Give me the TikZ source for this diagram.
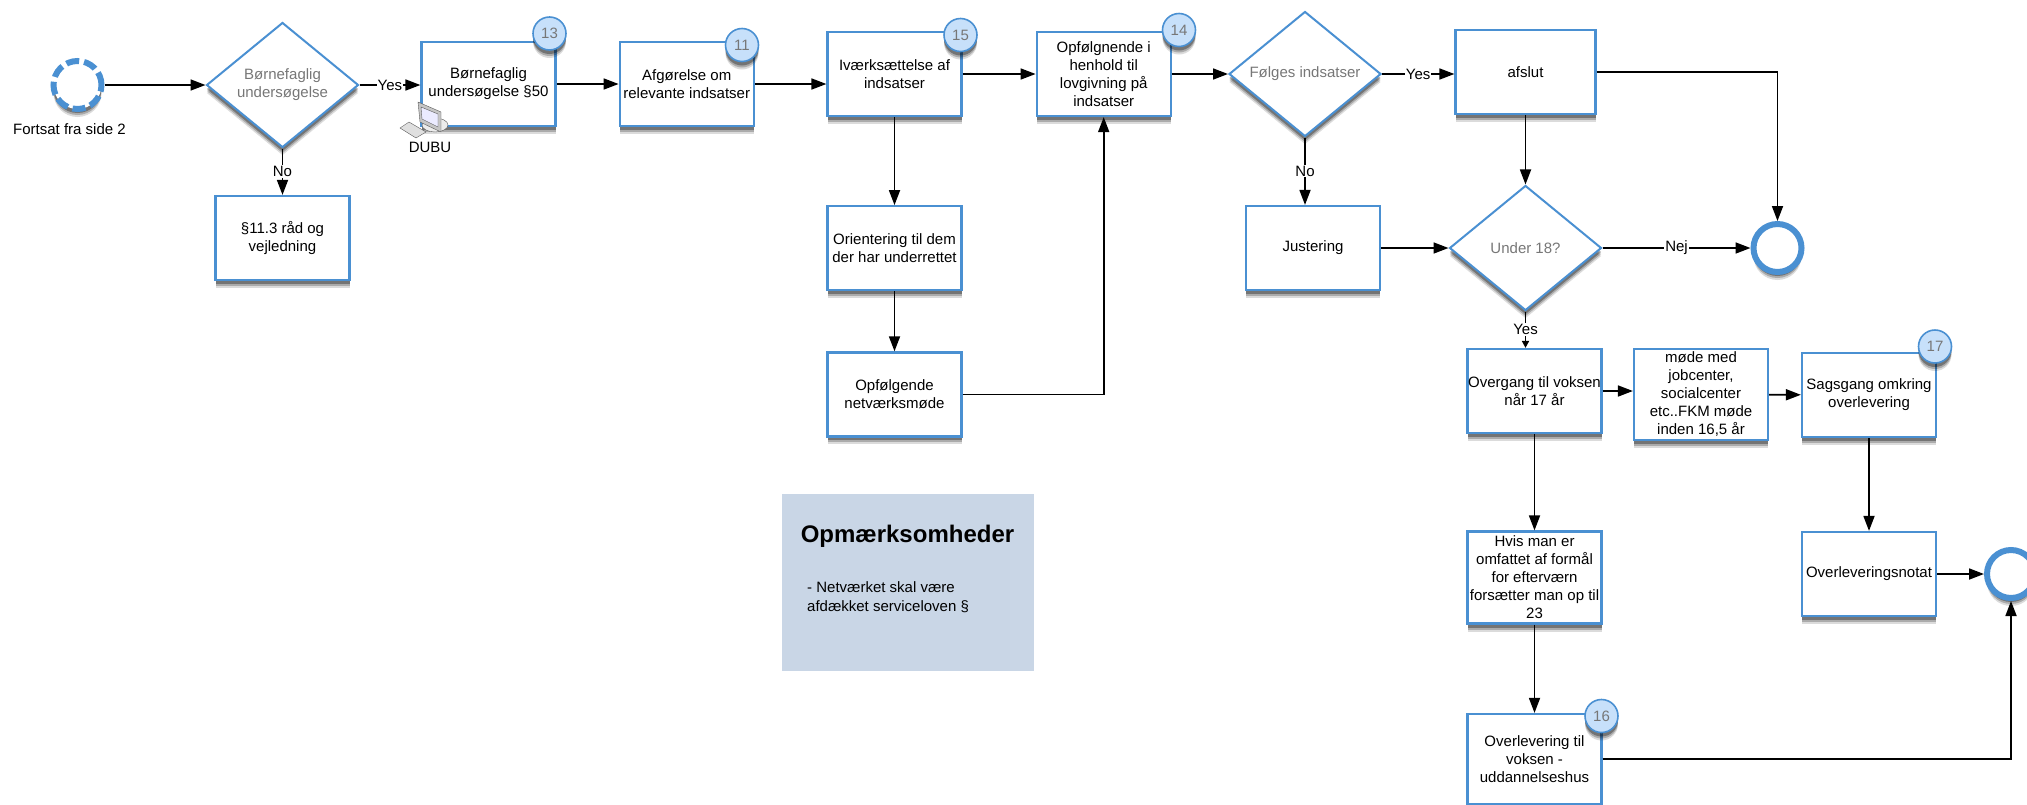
\documentclass[tikz,border=0pt]{standalone}
\usepackage{fontspec}
\setmainfont{Liberation Sans}
\usetikzlibrary{positioning,shapes.geometric,shadows,arrows.meta}
\definecolor{flowblue}{HTML}{4A90D2}
\definecolor{badgefill}{HTML}{C7E0FA}
\definecolor{notefill}{HTML}{C9D6E6}
\definecolor{softgrey}{HTML}{777777}

\begin{document}
\begin{tikzpicture}[
	x=1pt,y=-1pt,
	font=\fontsize{15}{18}\selectfont,
	softshadow/.style = {
		drop shadow={shadow xshift=0pt,shadow yshift=-8pt,opacity=.14,fill=black},
		drop shadow={shadow xshift=0pt,shadow yshift=-6pt,opacity=.22,fill=black},
		drop shadow={shadow xshift=0pt,shadow yshift=-4pt,opacity=.32,fill=black},
	},
	box/.style = {
		draw=flowblue,fill=white,line width=2.2pt,
		minimum width=134pt,
		minimum height=84pt,
		inner sep=0pt,
		align=center,
		softshadow,
	},
	decision/.style = {
		diamond,draw=flowblue,fill=white,line width=2pt,
		minimum width=152pt,
		minimum height=125pt,
		inner sep=0pt,
		aspect=1.2,
		align=center,
		text=softgrey,
		softshadow,
	},
	badge/.style = {
		circle,draw=flowblue,fill=badgefill,line width=1.6pt,
		minimum size=33pt,
		inner sep=0pt,
		text=softgrey,
		softshadow,
	},
	event/.style = {
		circle,draw=flowblue,fill=white,line width=6pt,
		minimum size=48pt,
		inner sep=0pt,
		softshadow,
	},
	flow/.style = {-{Triangle[length=15pt,width=11pt]},line width=1.7pt,black},
	shortflow/.style = {-{Triangle[length=7pt,width=7pt]},line width=1.7pt,black},
	tag/.style = {fill=white,inner sep=1pt},
	node distance=63pt
]
\useasboundingbox (0,0) rectangle (2027,804);

% Start of the page
\node [event,dash pattern=on 13pt off 5pt] (start) at (77.5,85) {};
\node [below=8pt of start, xshift=-8pt] (startlabel) {Fortsat fra side 2};

% Top row
\node [decision] (under) at (282.5,85) {Børnefaglig\\undersøgelse};
\node [box] (sec50) at (488.5,84) {Børnefaglig\\undersøgelse §50};
\node [box,right=62pt of sec50] (afg) {Afgørelse om\\relevante indsatser};
\node [box] (ivaerk) at (894.5,74) {Iværksættelse af\\indsatser};
\node [box,right=73pt of ivaerk] (lov) {Opfølgnende i\\henhold til\\lovgivning på\\indsatser};
\node [decision] (folges) at (1305,74) {Følges indsatser};
\node [box,minimum width=140pt] (afslut) at (1525.5,72) {afslut};

% Below the top row
\node [box] (raad) at (282.5,238) {§11.3 råd og\\vejledning};
\node [box,below=88pt of ivaerk] (orient) {Orientering til dem\\der har underrettet};
\node [box,below=60pt of orient] (netv) {Opfølgende\\netværksmøde};
\node [box] (just) at (1313,248) {Justering};
\node [decision] (u18) at (1525.5,248) {Under 18?};
\node [event] (end) at (1777.5,248) {};

% Right part
\node [box] (overg) at (1534.5,391) {Overgang til voksen\\når 17 år};
\node [box,minimum height=91pt] (moede) at (1701,394.5) {møde med\\jobcenter,\\socialcenter\\etc..FKM møde\\inden 16,5 år};
\node [box] (sags) at (1869,395) {Sagsgang omkring\\overlevering};
\node [box,minimum height=92pt] (hvis) at (1534.5,577.5) {Hvis man er\\omfattet af formål\\for efterværn\\forsætter man op til\\23};
\node [box] (notat) at (1869,574) {Overleveringsnotat};
\node [event] (endb) at (2011,574) {};
\node [box,minimum height=90pt] (voksen) at (1534.5,759) {Overlevering til\\voksen -\\uddannelseshus};

% Note
\node [fill=notefill,minimum width=252pt,minimum height=177pt] (note) at (908,582.5) {};
\node [font=\fontsize{24}{28}\selectfont\bfseries] (notetitle) at (907.5,536) {Opmærksomheder};
\node [anchor=west,align=left,inner sep=0pt,font=\fontsize{15}{19}\selectfont] (notetext) at (807,597) {- Netværket skal være\\afdækket serviceloven §};

% Connections
\draw[flow] (start) -- (under);
\draw[flow] (under.east) -- node[tag] {Yes} (under.east -| sec50.west);
\draw[flow] (under) -- node[tag] {No} (raad);
\draw[flow] (sec50) -- (afg);
\draw[flow] (afg) -- (afg -| ivaerk.west);
\draw[flow] (ivaerk) -- (lov);
\draw[flow] (lov) -- (folges);
\draw[flow] (folges.east) -- node[tag] {Yes} (folges.east -| afslut.west);
\draw[flow] (folges.south) -- node[tag] {No} (folges.south |- just.north);
\draw[flow] (ivaerk) -- (orient);
\draw[flow] (orient) -- (netv);
\draw[flow] (netv) -| (lov);
\draw[flow] (just) -- (u18);
\draw[flow] (afslut) -- (u18);
\draw[flow] (afslut) -| (end);
\draw[flow] (u18) -- node[tag] {Nej} (end);
\draw[shortflow] (u18.south) -- node[tag] {Yes} (u18.south |- overg.north);
\draw[flow] (overg.east) -- (overg.east -| moede.west);
\draw[flow] (moede) -- (sags);
\draw[flow] (overg) -- (hvis);
\draw[flow] (hvis) -- (voksen);
\draw[flow] (sags.south) -- (sags.south |- notat.north);
\draw[flow] (notat.east) -- (notat.east -| endb.west);
\draw[flow] (voksen.east) -| (endb.south);

% Number badges
\node [badge] (n13) at (549.5,33.5) {13};
\node [badge] (n11) at (742,45) {11};
\node [badge] (n15) at (960.5,35) {15};
\node [badge] (n14) at (1179,30) {14};
\node [badge] (n17) at (1935,346.5) {17};
\node [badge] (n16) at (1601.5,716) {16};

% Computer
\draw[gray!70!black,fill=gray!15] (435,125) ellipse (13pt and 7pt);
\draw[gray!70!black,fill=gray!45] (418,102) -- (441,112) -- (441,132) -- (420,122) -- cycle;
\draw[gray!70!black,fill=blue!8] (421,107) -- (438,114) -- (438,127) -- (422,119) -- cycle;
\draw[gray!70!black,fill=gray!25] (400,128) -- (409,122) -- (426,132) -- (416,138) -- cycle;
\node (dubu) at (430,147) {DUBU};

\end{tikzpicture}
\end{document}
